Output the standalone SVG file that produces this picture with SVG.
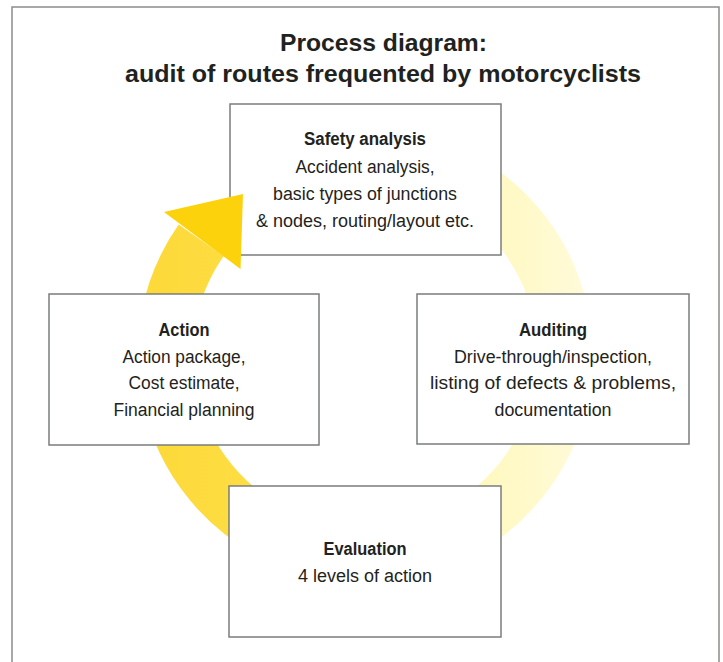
<svg xmlns="http://www.w3.org/2000/svg" width="723" height="662" viewBox="0 0 723 662">
  <style>
    .box { fill: #ffffff; stroke: #7a7d7c; stroke-width: 1.5; }
    .t { font-family: "Liberation Sans", Arial, sans-serif; fill: #1f2320; text-anchor: middle; }
    .title { font-size: 24.5px; font-weight: bold; }
    .head { font-size: 17.5px; font-weight: bold; }
    .body { font-size: 18px; }
  </style>
  <defs>
    <linearGradient id="ringGrad" gradientUnits="userSpaceOnUse" x1="150" y1="0" x2="590" y2="0">
      <stop offset="0" stop-color="#fdd93a"/>
      <stop offset="0.3" stop-color="#fddf46"/>
      <stop offset="0.75" stop-color="#fff8bf"/>
      <stop offset="1" stop-color="#fffbda"/>
    </linearGradient>
  </defs>
  <rect x="0" y="0" width="723" height="662" fill="#ffffff"/>
  <rect x="12" y="7" width="707" height="680" fill="#ffffff" stroke="#8a8c8a" stroke-width="1.5"/>

  <g id="title">
    <text class="t title" x="383.5" y="51" textLength="207" lengthAdjust="spacingAndGlyphs">Process diagram:</text>
    <text class="t title" x="383" y="82" textLength="516" lengthAdjust="spacingAndGlyphs">audit of routes frequented by motorcyclists</text>
  </g>

  <g id="connectors">
    <path id="cycle-ring" d="M 365 155 A 200 200 0 1 1 201.2 240.3" fill="none" stroke="url(#ringGrad)" stroke-width="55"/>
  </g>

  <g id="node-safety">
    <rect class="box" x="230" y="104" width="271" height="151"/>
    <text class="t head" x="365" y="145" textLength="122" lengthAdjust="spacingAndGlyphs">Safety analysis</text>
    <text class="t body" x="365" y="173" textLength="139" lengthAdjust="spacingAndGlyphs">Accident analysis,</text>
    <text class="t body" x="365" y="200" textLength="184" lengthAdjust="spacingAndGlyphs">basic types of junctions</text>
    <text class="t body" x="365" y="227" textLength="218" lengthAdjust="spacingAndGlyphs">&amp; nodes, routing/layout etc.</text>
  </g>

  <g id="node-action">
    <rect class="box" x="49" y="294" width="270" height="151"/>
    <text class="t head" x="184" y="336" textLength="51" lengthAdjust="spacingAndGlyphs">Action</text>
    <text class="t body" x="184" y="363" textLength="123" lengthAdjust="spacingAndGlyphs">Action package,</text>
    <text class="t body" x="184" y="389" textLength="111" lengthAdjust="spacingAndGlyphs">Cost estimate,</text>
    <text class="t body" x="184" y="416" textLength="141" lengthAdjust="spacingAndGlyphs">Financial planning</text>
  </g>

  <g id="node-auditing">
    <rect class="box" x="417" y="294" width="272" height="150"/>
    <text class="t head" x="553" y="336" textLength="68" lengthAdjust="spacingAndGlyphs">Auditing</text>
    <text class="t body" x="553" y="363" textLength="198" lengthAdjust="spacingAndGlyphs">Drive-through/inspection,</text>
    <text class="t body" x="553" y="389" textLength="246" lengthAdjust="spacingAndGlyphs">listing of defects &amp; problems,</text>
    <text class="t body" x="553" y="416" textLength="117" lengthAdjust="spacingAndGlyphs">documentation</text>
  </g>

  <g id="node-evaluation">
    <rect class="box" x="229" y="486" width="272" height="151"/>
    <text class="t head" x="365" y="555" textLength="83" lengthAdjust="spacingAndGlyphs">Evaluation</text>
    <text class="t body" x="365" y="582" textLength="134" lengthAdjust="spacingAndGlyphs">4 levels of action</text>
  </g>

  <g id="arrowhead">
    <polygon points="164,212 243,194 240.5,269" fill="#fcd20c"/>
  </g>
</svg>
